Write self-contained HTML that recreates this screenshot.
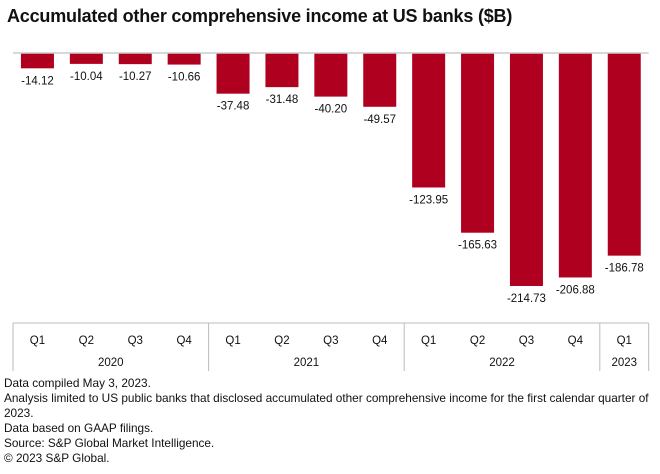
<!DOCTYPE html>
<html><head><meta charset="utf-8"><style>
body{margin:0;background:#fff;font-family:"Liberation Sans",sans-serif;}
#wrap{position:relative;width:660px;height:474px;overflow:hidden;}
#title{position:absolute;left:7px;top:6px;font-size:18px;font-weight:bold;color:#111;letter-spacing:-0.2px;}
#foot{position:absolute;left:4px;top:376px;font-size:11.8px;line-height:15px;color:#111;white-space:nowrap;}
</style></head><body>
<div id="wrap">
<div id="title">Accumulated other comprehensive income at US banks ($B)</div>
<svg id="svg" width="660" height="474" style="position:absolute;left:0;top:0"></svg>
<div id="foot">Data compiled May 3, 2023.<br>Analysis limited to US public banks that disclosed accumulated other comprehensive income for the first calendar quarter of<br>2023.<br>Data based on GAAP filings.<br>Source: S&amp;P Global Market Intelligence.<br>© 2023 S&amp;P Global.</div>
</div>
<script>
const quarters=["Q1","Q2","Q3","Q4","Q1","Q2","Q3","Q4","Q1","Q2","Q3","Q4","Q1"];
const years=["2020","2021","2022","2023"];
const yearCounts=[4,4,4,1];
const values=[-14.12,-10.04,-10.27,-10.66,-37.48,-31.48,-40.20,-49.57,-123.95,-165.63,-214.73,-206.88,-186.78];
const NS="http://www.w3.org/2000/svg";
const svg=document.getElementById('svg');
const x0=13,step=48.9,bw=33,zeroY=53,ppu=1.085;
const xc=i=>x0+step*(i+0.5);
const y=v=>zeroY-v*ppu;
function mk(t,a){const e=document.createElementNS(NS,t);for(const k in a)e.setAttribute(k,a[k]);svg.appendChild(e);return e;}
values.forEach((v,i)=>{
 const r=mk('rect',{x:xc(i)-bw/2,y:zeroY,width:bw,height:y(v)-zeroY,fill:'#b00020'});
 
 
 const t=mk('text',{x:xc(i),y:y(v)+16,'text-anchor':'middle','font-size':'11.5',fill:'#111','font-family':'Liberation Sans'});
 t.textContent=v.toFixed(2);
 
 
 const q=mk('text',{x:xc(i),y:344,'text-anchor':'middle','font-size':'11.5',fill:'#111','font-family':'Liberation Sans'});
 q.textContent=quarters[i];
 
 
});
mk('line',{x1:x0,x2:x0+step*13,y1:zeroY,y2:zeroY,stroke:'#ccc','stroke-width':1.5});
mk('line',{x1:x0,x2:x0+step*13,y1:323,y2:323,stroke:'#bbb','stroke-width':1});
let start=0;
mk('line',{x1:x0,x2:x0,y1:323,y2:371,stroke:'#bbb'});
years.forEach((yr,j)=>{
 const end=start+yearCounts[j];
 const xe=x0+step*end;
 mk('line',{x1:xe,x2:xe,y1:323,y2:371,stroke:'#bbb'});
 const t=mk('text',{x:(x0+step*start+xe)/2,y:366,'text-anchor':'middle','font-size':'11.5',fill:'#111','font-family':'Liberation Sans'});
 t.textContent=yr;
 
 
 start=end;
});
</script>
</body></html>
